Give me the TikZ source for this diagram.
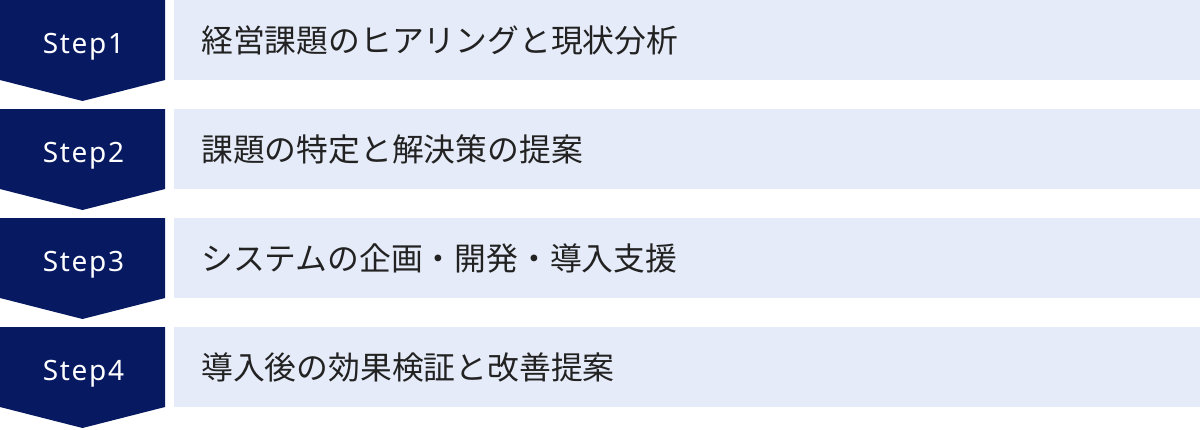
\documentclass[tikz,border=0pt]{standalone}
\usepackage{fontspec}
\setmainfont{Noto Sans CJK JP}
\newfontfamily\steplatin[LetterSpace=6]{Noto Sans}
\usepackage{tikz}
\usetikzlibrary{positioning}
\usetikzlibrary{calc}
\definecolor{stepnavy}{HTML}{061961}
\definecolor{tasklight}{HTML}{E5EBF8}
\definecolor{taskink}{HTML}{222222}
\newcommand{\StepText}[1]{{\steplatin\fontsize{28}{34}\selectfont #1}}
\newcommand{\TaskText}[1]{{\fontsize{31.8}{36}\selectfont #1}}
\tikzset{
  stepfill/.style={fill=stepnavy,draw=none},
  steplabel/.style={text=white,inner sep=0pt,anchor=base},
  taskbox/.style={fill=tasklight,draw=none,inner sep=0pt,anchor=north west,
                  minimum width=1026pt,minimum height=80pt},
  tasklabel/.style={text=taskink,inner sep=0pt,anchor=west},
}

\begin{document}
\begin{tikzpicture}[x=1pt,y=-1pt]
                    \useasboundingbox (0,0) rectangle (1200,429);
                    % Step 1
                    \fill[stepfill] (0,0) -- (165,0) -- (165,80) -- (82.5,101) -- (0,80) -- cycle;
                    \node[steplabel] at (83.5,53) (nStep1) {\StepText{Step1}};
                    \node[taskbox] at (174,0) (nTask1) {};
                    \node[tasklabel] at (nTask1.west) [xshift=27pt] (nText1) {\TaskText{経営課題のヒアリングと現状分析}};
                    % Step 2
                    \fill[stepfill] (0,109) -- (165,109) -- (165,189) -- (82.5,210) -- (0,189) -- cycle;
                    \node[steplabel] at (83.5,162) (nStep2) {\StepText{Step2}};
                    \node[taskbox] at (174,109) (nTask2) {};
                    \node[tasklabel] at (nTask2.west) [xshift=27pt] (nText2) {\TaskText{課題の特定と解決策の提案}};
                    % Step 3
                    \fill[stepfill] (0,218) -- (165,218) -- (165,298) -- (82.5,319) -- (0,298) -- cycle;
                    \node[steplabel] at (83.5,271) (nStep3) {\StepText{Step3}};
                    \node[taskbox] at (174,218) (nTask3) {};
                    \node[tasklabel] at (nTask3.west) [xshift=27pt] (nText3) {\TaskText{システムの企画・開発・導入支援}};
                    % Step 4
                    \fill[stepfill] (0,327) -- (165,327) -- (165,407) -- (82.5,428) -- (0,407) -- cycle;
                    \node[steplabel] at (83.5,380) (nStep4) {\StepText{Step4}};
                    \node[taskbox] at (174,327) (nTask4) {};
                    \node[tasklabel] at (nTask4.west) [xshift=27pt] (nText4) {\TaskText{導入後の効果検証と改善提案}};
\end{tikzpicture}
\end{document}
